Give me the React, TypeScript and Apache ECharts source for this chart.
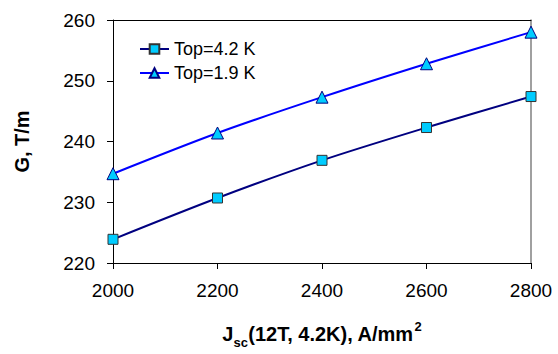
import React, { useEffect, useRef } from "react";
import * as echarts from "echarts";

const xValues = [2000, 2200, 2400, 2600, 2800];
const g42 = [223.9, 230.7, 236.9, 242.3, 247.4];
const g19 = [234.7, 241.4, 247.3, 252.8, 258.0];
const seriesNames = ["Top=4.2 K", "Top=1.9 K"];

const FONT = "Liberation Sans, Arial, sans-serif";

export default function App() {
  const ref = useRef<HTMLDivElement>(null);
  useEffect(() => {
    if (!ref.current) return;
    const chart = echarts.init(ref.current, undefined, { renderer: "svg" });
    const toPairs = (ys: number[]) => xValues.map((x, i) => [x, ys[i]]);
    const bold = { fontWeight: "bold", color: "#000", fontFamily: FONT, lineHeight: 24 };
    chart.setOption({
      animation: false,
      backgroundColor: "#ffffff",
      textStyle: { fontFamily: FONT },
      grid: {
        left: 113,
        top: 20,
        width: 418,
        height: 249,
        containLabel: false,
        show: false,
      },
      legend: {
        orient: "vertical",
        left: 134,
        top: 35,
        itemWidth: 29,
        itemHeight: 12,
        itemGap: 6,
        textStyle: { fontSize: 18, lineHeight: 18, color: "#000", fontFamily: FONT },
        data: seriesNames,
      },
      xAxis: [
        {
          type: "value",
          min: 2000,
          max: 2800,
          interval: 200,
          position: "bottom",
          axisLine: { show: true, onZero: false, lineStyle: { color: "#000", width: 1 } },
          axisTick: { show: true, inside: false, length: 6, lineStyle: { color: "#000" } },
          axisLabel: { fontSize: 19, color: "#000", margin: 18, fontFamily: FONT, formatter: (v: number) => String(v) },
          splitLine: { show: false },
          name: "{j|J}{sub|sc}{b|(12T, 4.2K), A/mm}{sup|2}",
          nameLocation: "middle",
          nameGap: 57,
          nameTextStyle: {
            rich: {
              j: { ...bold, fontSize: 20, verticalAlign: "bottom" },
              sub: { ...bold, fontSize: 13, verticalAlign: "bottom", padding: [0, 0, -5, 0] },
              b: { ...bold, fontSize: 20, verticalAlign: "bottom" },
              sup: { ...bold, fontSize: 13, verticalAlign: "top", padding: [0, 0, 0, 1] },
            },
          },
        },
        {
          type: "value",
          min: 2000,
          max: 2800,
          position: "top",
          axisLine: { show: true, onZero: false, lineStyle: { color: "#000", width: 1 } },
          axisTick: { show: false },
          axisLabel: { show: false },
          splitLine: { show: false },
        },
      ],
      yAxis: [
        {
          type: "value",
          min: 220,
          max: 260,
          interval: 10,
          position: "left",
          axisLine: { show: true, onZero: false, lineStyle: { color: "#000", width: 1 } },
          axisTick: { show: true, inside: false, length: 6, lineStyle: { color: "#000" } },
          axisLabel: { fontSize: 19, color: "#000", margin: 18, fontFamily: FONT },
          splitLine: { show: false },
          name: "G, T/m",
          nameLocation: "middle",
          nameGap: 81,
          nameRotate: 90,
          nameTextStyle: { fontSize: 20, fontWeight: "bold", color: "#000", fontFamily: FONT },
        },
        {
          type: "value",
          min: 220,
          max: 260,
          position: "right",
          axisLine: { show: true, onZero: false, lineStyle: { color: "#808080", width: 1.5 } },
          axisTick: { show: false },
          axisLabel: { show: false },
          splitLine: { show: false },
        },
      ],
      series: [
        {
          name: seriesNames[0],
          type: "line",
          smooth: 0.3,
          data: toPairs(g42),
          symbol: "rect",
          symbolSize: 10,
          lineStyle: { color: "#000080", width: 2 },
          itemStyle: { color: "#00CCFF", borderColor: "#333333", borderWidth: 1 },
          z: 3,
        },
        {
          name: seriesNames[1],
          type: "line",
          smooth: 0.3,
          data: toPairs(g19),
          symbol: "triangle",
          symbolSize: 12,
          lineStyle: { color: "#0000FF", width: 2 },
          itemStyle: { color: "#00CCFF", borderColor: "#000080", borderWidth: 1 },
          z: 3,
        },
      ],
    });
    return () => chart.dispose();
  }, []);
  return (
    <div
      ref={ref}
      style={{ position: "absolute", left: 0, top: 0, width: 558, height: 354 }}
    />
  );
}
